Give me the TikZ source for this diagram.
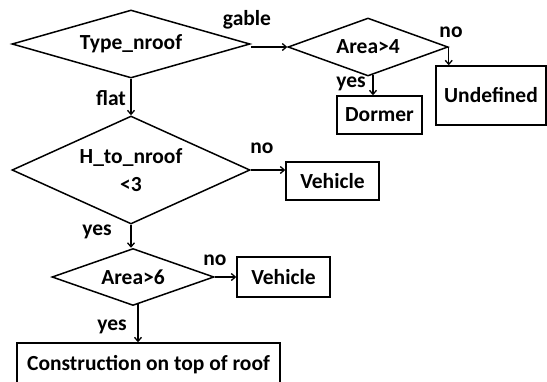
\documentclass[tikz,border=0pt]{standalone}
\usepackage{fontspec}
\setmainfont{Carlito}
\usetikzlibrary{shapes.geometric,arrows.meta,calc}
\begin{document}
\begin{tikzpicture}[x=1pt,y=-1pt,
  every node/.style={font=\fontsize{21.5}{28}\selectfont\bfseries},
  dia/.style={draw, diamond, inner sep=0pt, line width=1.5pt, align=center},
  box/.style={draw, rectangle, line width=1.5pt, inner sep=0pt},
  arr/.style={line width=1.3pt, -{Straight Barb[length=4pt,width=7pt]}},
  lab/.style={inner sep=0pt}]
\useasboundingbox (0,0) rectangle (547,381);
% decisions
\node[dia, shape aspect=3.5, minimum width=238pt, minimum height=68pt] (D1) at (131,44) {Type\_nroof};
\node[dia, shape aspect=2.76, minimum width=160pt, minimum height=58pt] (D2) at (368,47) {Area>4};
\node[dia, shape aspect=2.2, minimum width=238pt, minimum height=108pt] (D3) at (131,170) {H\_to\_nroof\\<3};
\node[dia, shape aspect=2.84, minimum width=162pt, minimum height=57pt] (D4) at (133,277) {Area>6};
% outcomes
\node[box, minimum width=85pt, minimum height=38pt] (Do) at (379.5,115) {Dormer};
\node[box, minimum width=110pt, minimum height=59pt] (U) at (491,95.5) {Undefined};
\node[box, minimum width=93pt, minimum height=38pt] (V1) at (332.5,181) {Vehicle};
\node[box, minimum width=93pt, minimum height=40pt] (V2) at (283.5,277) {Vehicle};
\node[box, minimum width=263pt, minimum height=44pt] (C) at (148.5,365) {Construction on top of roof};
% connectors
\draw[arr] (D2.west -| D1.east) -- (D2.west);
\draw[arr] (D2.east) -- (D2.east |- U.north);
\coordinate (D2y) at ($(D2.south)+(5,-2)$);
\draw[arr] (D2y) -- (D2y |- Do.north);
\draw[arr] (D1.south) -- (D3.north);
\draw[arr] (D3.east) -- (D3.east -| V1.west);
\draw[arr] (D3.south) -- (D3.south |- D4.north);
\draw[arr] (D4.east) -- (V2.west);
\coordinate (D4y) at ($(D4.south)+(5,-2)$);
\draw[arr] (D4y) -- (D4y |- C.north);
% labels
\node[lab] (lgable) at (247,20) {gable};
\node[lab] (lno2) at (451,32) {no};
\node[lab] (lyes2) at (351,84) {yes};
\node[lab] (lflat) at (111,98) {flat};
\node[lab] (lno3) at (262,148) {no};
\node[lab] (lyes3) at (97,232) {yes};
\node[lab] (lno4) at (215,260) {no};
\node[lab] (lyes4) at (112,327) {yes};
\end{tikzpicture}
\end{document}
